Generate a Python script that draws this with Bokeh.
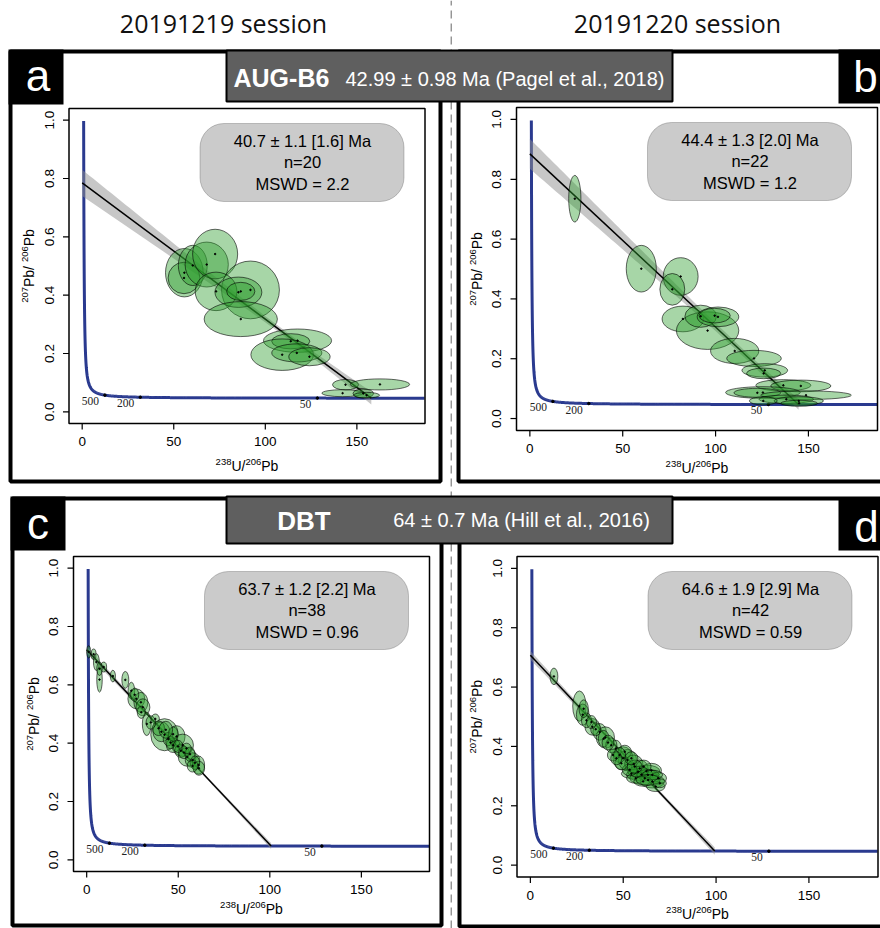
import numpy as np
from bokeh.plotting import figure
from bokeh.models import Range1d, BoxAnnotation
from bokeh.core.properties import value
from bokeh.embed import file_html
from bokeh.resources import INLINE

# ------------------------------------------------------------------ data
session_labels = ["20191219 session", "20191220 session"]
panel_letters = ["a", "b", "c", "d"]
sample_names = ["AUG-B6", "DBT"]
reference_ages = ["42.99 ± 0.98 Ma (Pagel et al., 2018)", "64 ± 0.7 Ma (Hill et al., 2016)"]

ages_ma = [40.7, 44.4, 63.7, 64.6]
age_err = ["1.1", "1.3", "1.2", "1.9"]
age_err_sys = ["1.6", "2.0", "2.2", "2.9"]
n_analyses = [20, 22, 38, 42]
mswd = ["2.2", "1.2", "0.96", "0.59"]
common_pb = [0.785, 0.885, 0.720, 0.707]          # 207Pb/206Pb upper intercept
band_h0 = [0.045, 0.050, 0.012, 0.015]            # envelope half width at x = 0
band_hmin = [0.010, 0.012, 0.004, 0.005]          # narrowest envelope half width
band_xmin = [110, 115, 55, 55]                    # where it is narrowest

x_ticks = [0, 50, 100, 150]
x_tick_labels = ["0", "50", "100", "150"]
y_ticks = [0.0, 0.2, 0.4, 0.6, 0.8, 1.0]
y_tick_labels = ["0.0", "0.2", "0.4", "0.6", "0.8", "1.0"]
x_title_runs = [("238", True), ("U/", False), ("206", True), ("Pb", False)]
y_title_runs = [("207", True), ("Pb/ ", False), ("206", True), ("Pb", False)]
concordia_label_ages = [500, 200, 50]

# ellipses: centre (x, y) and half axes (rx, ry)
a_x = [55.8, 55.6, 60.4, 68.0, 72.6, 91.9, 73.1, 85.3, 86.6, 86.6,
       117.6, 113.9, 109.2, 117.2, 124.1, 143.8, 162.6, 142.2, 153.5, 155.3]
a_y = [0.477, 0.459, 0.502, 0.505, 0.541, 0.418, 0.413, 0.410, 0.413, 0.318,
       0.244, 0.242, 0.196, 0.202, 0.189, 0.093, 0.094, 0.064, 0.063, 0.057]
a_rx = [10.3, 8.7, 7.9, 11.8, 12.3, 15.8, 11.4, 12.8, 7.7, 20.0,
        18.6, 10.4, 17.1, 13.7, 11.3, 7.1, 16.2, 11.3, 5.6, 7.1]
a_ry = [0.083, 0.054, 0.069, 0.077, 0.085, 0.099, 0.066, 0.052, 0.031, 0.060,
        0.040, 0.026, 0.054, 0.031, 0.031, 0.018, 0.019, 0.012, 0.0155, 0.0097]

b_x = [24.2, 60.0, 81.2, 76.7, 82.4, 95.7, 92.0, 101.3, 99.5, 110.3, 120.7,
       126.5, 125.9, 136.5, 145.9, 125.5, 122.5, 148.7, 138.1, 144.8, 145.0, 125.7]
b_y = [0.735, 0.501, 0.475, 0.432, 0.333, 0.294, 0.342, 0.340, 0.344, 0.226, 0.201,
       0.161, 0.151, 0.111, 0.109, 0.087, 0.086, 0.078, 0.0645, 0.059, 0.051, 0.059]
b_rx = [3.3, 8.1, 9.4, 6.7, 11.2, 16.8, 8.5, 11.2, 8.4, 13.0, 14.7,
        12.3, 9.2, 14.8, 16.2, 20.1, 12.6, 24.4, 14.7, 13.3, 9.9, 7.5]
b_ry = [0.078, 0.078, 0.063, 0.053, 0.043, 0.063, 0.037, 0.033, 0.0245, 0.042, 0.027,
        0.0223, 0.0178, 0.019, 0.0195, 0.0195, 0.015, 0.0145, 0.0139, 0.0139, 0.010, 0.0134]

c_x = [1.1, 3.8, 5.3, 7.0, 9.3, 14.3, 21.1, 24.4, 27.1, 29.6, 30.7, 32.8, 37.5,
       42.5, 40.8, 39.2, 49.1, 52.4, 47.2, 51.4, 54.9, 57.8, 61.1, 61.3, 44.5,
       45.8, 49.9, 53.1, 56.4, 59.1, 35.0, 29.8, 26.2, 7.0, 47.2, 43.2, 54.5, 57.8]
c_y = [0.713, 0.705, 0.678, 0.618, 0.661, 0.630, 0.617, 0.580, 0.552, 0.540, 0.523,
       0.466, 0.483, 0.429, 0.439, 0.451, 0.423, 0.393, 0.393, 0.374, 0.353, 0.342,
       0.325, 0.314, 0.414, 0.402, 0.389, 0.368, 0.362, 0.333, 0.471, 0.506, 0.566,
       0.655, 0.431, 0.446, 0.382, 0.322]
c_rx = [1.1, 1.3, 1.6, 1.5, 1.6, 1.4, 1.9, 1.8, 4.6, 3.8, 3.8, 2.4, 2.2, 7.5, 4.6,
        3.3, 4.6, 5.9, 3.7, 3.3, 4.9, 4.0, 3.3, 3.1, 2.7, 2.6, 2.7, 2.9, 2.7, 2.6,
        2.6, 2.2, 2.2, 1.5, 2.7, 3.7, 2.6, 2.9]
c_ry = [0.021, 0.018, 0.029, 0.043, 0.017, 0.020, 0.029, 0.029, 0.034, 0.034, 0.029,
        0.040, 0.017, 0.055, 0.034, 0.025, 0.037, 0.038, 0.025, 0.023, 0.032, 0.025,
        0.031, 0.024, 0.023, 0.021, 0.021, 0.021, 0.025, 0.023, 0.023, 0.021, 0.023,
        0.023, 0.025, 0.029, 0.018, 0.021]

d_x = [12.7, 26.4, 28.2, 33.4, 37.3, 40.4, 39.5, 46.0, 49.9, 52.3, 55.7, 58.9, 62.5,
       54.4, 59.8, 61.6, 65.7, 67.5, 65.2, 56.7, 50.8, 48.1, 43.6, 35.2, 30.2, 61.0,
       63.3, 58.0, 53.5, 68.8, 49.0, 44.5, 41.8, 32.9, 28.7, 65.7, 60.7, 56.2, 63.4,
       69.7, 46.3, 54.4]
d_y = [0.636, 0.536, 0.507, 0.466, 0.449, 0.430, 0.426, 0.393, 0.360, 0.354, 0.341,
       0.326, 0.317, 0.308, 0.305, 0.293, 0.282, 0.265, 0.319, 0.293, 0.382, 0.371,
       0.404, 0.458, 0.488, 0.332, 0.304, 0.315, 0.321, 0.293, 0.343, 0.371, 0.413,
       0.482, 0.527, 0.304, 0.282, 0.332, 0.287, 0.276, 0.360, 0.360]
d_rx = [2.1, 3.6, 3.4, 4.0, 3.6, 4.9, 2.9, 3.1, 5.4, 4.9, 4.9, 4.5, 7.2, 5.4, 8.1,
        8.1, 6.6, 5.0, 5.4, 4.9, 3.6, 3.2, 3.0, 2.7, 2.7, 4.0, 6.0, 5.5, 4.0, 4.5,
        3.5, 3.0, 3.2, 2.7, 2.5, 5.5, 5.0, 4.0, 6.5, 3.5, 3.0, 3.5]
d_ry = [0.028, 0.051, 0.036, 0.028, 0.028, 0.036, 0.028, 0.028, 0.039, 0.036, 0.030,
        0.028, 0.020, 0.0156, 0.021, 0.022, 0.022, 0.017, 0.024, 0.017, 0.022, 0.025,
        0.025, 0.022, 0.025, 0.022, 0.018, 0.018, 0.020, 0.020, 0.022, 0.020, 0.025,
        0.022, 0.030, 0.016, 0.016, 0.022, 0.018, 0.015, 0.022, 0.022]

ellipse_sets = [(a_x, a_y, a_rx, a_ry), (b_x, b_y, b_rx, b_ry),
                (c_x, c_y, c_rx, c_ry), (d_x, d_y, d_rx, d_ry)]

# U-Pb decay constants (1/Myr) and 238U/235U
LAMBDA238, LAMBDA235, U238_U235 = 1.55125e-4, 9.8485e-4, 137.818


def tera_wasserburg(t_ma):
    t = np.asarray(t_ma, dtype=float)
    e8 = np.expm1(LAMBDA238 * t)
    e5 = np.expm1(LAMBDA235 * t)
    return 1.0 / e8, e5 / (U238_U235 * e8)


# ------------------------------------------------------------------ layout (page pixels)
W, H = 880, 928
XL, XR, YB, YT = -7.2, 187.2, -0.04, 1.04          # plot region limits (R usr)


def fx(X):
    return X


def fy(Y):
    return H - Y


panel_boxes = [(68.5, 424.5, 108, 423), (516, 877, 107, 430),
               (73, 429, 556, 871), (516.5, 877.5, 556, 876.5)]
x_title_gap = [42, 37, 37, 36.5]

FONT = value("Liberation Sans")
CHAR_W = {d: 0.556 for d in "0123456789"}
CHAR_W.update({"U": 0.722, "/": 0.278, "P": 0.667, "b": 0.556, " ": 0.278})
MAIN_SIZE, SUP_SIZE, SUP_LIFT = 14.0, 9.5, 4.0

p = figure(width=W, height=H, x_range=Range1d(0, W), y_range=Range1d(0, H),
           x_axis_type=None, y_axis_type=None, toolbar_location=None,
           output_backend="svg", min_border=0)
p.outline_line_color = None
p.background_fill_color = "white"
p.border_fill_color = "white"

xr, yr = {}, {}
for i, (L, R, T, B) in enumerate(panel_boxes):
    l, r, t, b = fx(L), fx(R), fy(T), fy(B)
    sx = (XR - XL) / (r - l)
    sy = (YT - YB) / (t - b)
    xr[f"x{i}"] = Range1d(XL - l * sx, XL + (W - l) * sx)
    yr[f"y{i}"] = Range1d(YB - b * sy, YB + (H - b) * sy)
p.extra_x_ranges = xr
p.extra_y_ranges = yr


def rich_title(xc, yc, runs, vertical=False):
    sizes = [SUP_SIZE if sup else MAIN_SIZE for _, sup in runs]
    widths = [sum(CHAR_W[c] for c in s) * sz for (s, _), sz in zip(runs, sizes)]
    pos = -sum(widths) / 2
    for (s, sup), sz, w in zip(runs, sizes, widths):
        lift = SUP_LIFT if sup else 0
        if vertical:
            x, y, ang = xc - lift, yc + pos, np.pi / 2
        else:
            x, y, ang = xc + pos, yc + lift, 0
        p.text(x=[x], y=[y], text=[s], angle=ang, text_font=FONT, text_font_size=f"{sz}px",
               text_color="black", text_align="left", text_baseline="middle")
        pos += w


# central dashed divider
p.line(x=[fx(450.7), fx(450.7)], y=[0, H], line_color="#666666", line_width=1, line_dash="8 5")

# session headers
p.text(x=[fx(223), fx(677)], y=[fy(22), fy(22)], text=session_labels,
       text_font=value("Open Sans"), text_font_size="25px", text_color="#111111",
       text_align="center", text_baseline="middle")

# thick panel frames
p.quad(left=[fx(10), fx(458), fx(12), fx(459)], right=[fx(440), fx(900), fx(441), fx(900)],
       top=[fy(51), fy(51), fy(498), fy(498)], bottom=[fy(481), fy(481), fy(925), fy(926)],
       fill_color=None, line_color="black", line_width=4)

# letter boxes
p.quad(left=[fx(8), fx(838), fx(10), fx(838)], right=[fx(63), fx(900), fx(65), fx(900)],
       top=[fy(49), fy(49), fy(496), fy(497)], bottom=[fy(104), fy(103), fy(550), fy(550)],
       fill_color="black", line_color=None)
p.text(x=[fx(37.5), fx(865), fx(37.5), fx(866)], y=[fy(75), fy(76), fy(523), fy(526)],
       text=panel_letters, text_font=FONT, text_font_size="44px", text_color="white",
       text_align="center", text_baseline="middle")

# sample banners
p.quad(left=[fx(226), fx(226)], right=[fx(672), fx(672)], top=[fy(50), fy(496)],
       bottom=[fy(101), fy(543)], fill_color="#5f5f5f", line_color="black", line_width=2)
p.text(x=[fx(233)], y=[fy(77.5)], text=[sample_names[0]], text_font=FONT, text_font_style="bold",
       text_font_size="25px", text_color="white", text_align="left", text_baseline="middle")
p.text(x=[fx(345)], y=[fy(78)], text=[reference_ages[0]], text_font=FONT,
       text_font_size="20px", text_color="white", text_align="left", text_baseline="middle")
p.text(x=[fx(303.5)], y=[fy(520)], text=[sample_names[1]], text_font=FONT, text_font_style="bold",
       text_font_size="26px", text_color="white", text_align="center", text_baseline="middle")
p.text(x=[fx(521)], y=[fy(519)], text=[reference_ages[1]], text_font=FONT,
       text_font_size="20px", text_color="white", text_align="center", text_baseline="middle")

# concordia curve (Tera-Wasserburg)
t_grid = np.geomspace(20, 6000, 3000)
cc_x, cc_y = tera_wasserburg(t_grid)
keep = (cc_x <= XR) & (cc_y <= 1.0)
cc_x, cc_y = cc_x[keep], cc_y[keep]
lab_x, lab_y = tera_wasserburg(concordia_label_ages)

for i, (L, R, T, B) in enumerate(panel_boxes):
    kw = dict(x_range_name=f"x{i}", y_range_name=f"y{i}")
    ex, ey, erx, ery = ellipse_sets[i]

    # concordia
    p.line(x=cc_x, y=cc_y, line_color="#2a3a8f", line_width=3, **kw)
    p.scatter(x=lab_x, y=lab_y, size=2.5, color="black", **kw)
    p.text(x=lab_x, y=lab_y, text=[str(a) for a in concordia_label_ages],
           text_font=value("Liberation Serif"), text_font_size="11.5px", text_color="#222222",
           text_align="right", text_baseline="middle", x_offset=-6, y_offset=6, **kw)

    # discordia regression with confidence envelope
    x_end, y_end = tera_wasserburg([ages_ma[i]])
    x_end, y_end = float(x_end[0]), float(y_end[0])
    y0 = common_pb[i]
    xs = np.linspace(0, x_end, 80)
    ys = y0 + (y_end - y0) / x_end * xs
    k = np.sqrt(band_h0[i] ** 2 - band_hmin[i] ** 2) / band_xmin[i]
    hw = np.sqrt(band_hmin[i] ** 2 + (k * (xs - band_xmin[i])) ** 2)
    p.patch(x=np.concatenate([xs, xs[::-1]]), y=np.concatenate([ys + hw, (ys - hw)[::-1]]),
            fill_color="#8f8f8f", fill_alpha=0.5, line_color=None, **kw)
    p.line(x=[0, x_end], y=[y0, y_end], line_color="black", line_width=1.5, **kw)

    # error ellipses
    p.ellipse(x=ex, y=ey, width=[2 * v for v in erx], height=[2 * v for v in ery],
              fill_color="#2e9e2e", fill_alpha=0.42, line_color="black", line_alpha=0.85,
              line_width=0.7, **kw)
    p.scatter(x=ex, y=ey, size=1.5, color="black", **kw)

    # plot box
    p.quad(left=[XL], right=[XR], bottom=[YB], top=[YT], fill_color=None,
           line_color="black", line_width=1.5, **kw)

    # x axis
    p.segment(x0=x_ticks, x1=x_ticks, y0=[fy(B)] * len(x_ticks), y1=[fy(B) - 6] * len(x_ticks),
              line_color="black", line_width=1.2, x_range_name=f"x{i}")
    p.text(x=x_ticks, y=[fy(B + 18)] * len(x_ticks), text=x_tick_labels, text_font=FONT,
           text_font_size="13.5px", text_color="black", text_align="center",
           text_baseline="middle", x_range_name=f"x{i}")
    # y axis
    p.segment(x0=[fx(L)] * len(y_ticks), x1=[fx(L) - 6] * len(y_ticks), y0=y_ticks, y1=y_ticks,
              line_color="black", line_width=1.2, y_range_name=f"y{i}")
    p.text(x=[fx(L - 20)] * len(y_ticks), y=y_ticks, text=y_tick_labels, text_font=FONT,
           text_font_size="13.5px", text_color="black", text_align="center",
           text_baseline="middle", angle=np.pi / 2, y_range_name=f"y{i}")
    # axis titles
    rich_title(fx((L + R) / 2), fy(B + x_title_gap[i]), x_title_runs)
    rich_title(fx(L - 40), fy((T + B) / 2), y_title_runs, vertical=True)

    # result box
    p.add_layout(BoxAnnotation(left=fx(L + 131), right=fx(L + 335), top=fy(T + 15),
                               bottom=fy(T + 93), fill_color="#cbcbcb", fill_alpha=1.0,
                               line_color="#4a4a4a", line_width=1, border_radius=24,
                               level="underlay"))
    lines = [f"{ages_ma[i]} ± {age_err[i]} [{age_err_sys[i]}] Ma", f"n={n_analyses[i]}",
             f"MSWD = {mswd[i]}"]
    p.text(x=[fx(L + 233.5)] * 3, y=[fy(T + 32), fy(T + 53.5), fy(T + 75)], text=lines,
           text_font=FONT, text_font_size="16.5px", text_color="black", text_align="center",
           text_baseline="middle")

open("out.html", "w").write(file_html(p, INLINE))
